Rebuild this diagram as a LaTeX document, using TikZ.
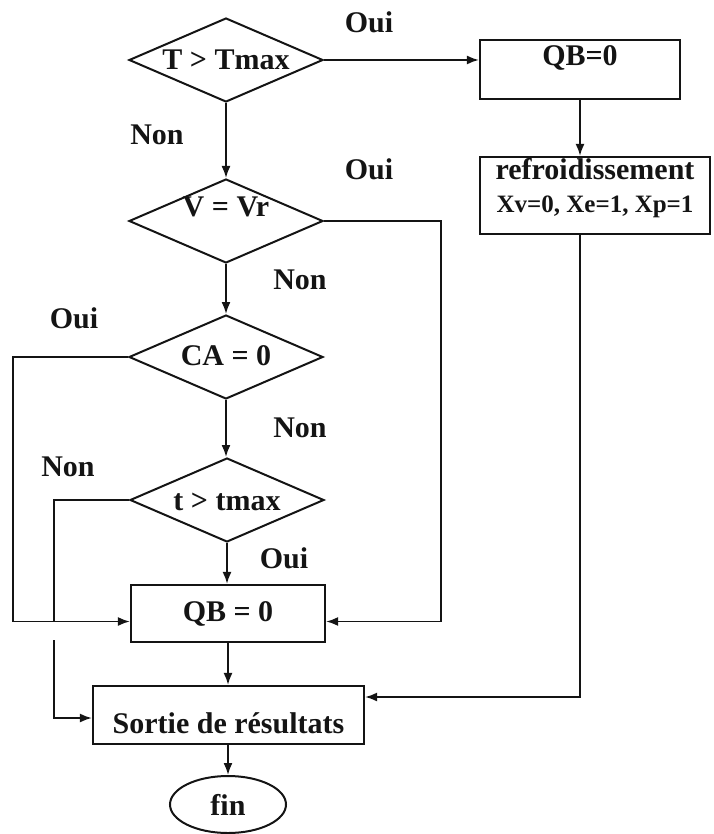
\documentclass[tikz,border=0pt]{standalone}
\usepackage{fontspec}
\setmainfont{Liberation Serif}
\usetikzlibrary{arrows.meta,shapes.geometric}
\definecolor{flowink}{HTML}{141414}

\begin{document}
\begin{tikzpicture}[x=0.5pt, y=-0.5pt,
                    every node/.style={flowink, font=\fontsize{15}{18}\selectfont\bfseries},
                    decision/.style={draw=flowink, shape=diamond, line width=1pt, inner sep=0pt,
                                     minimum width=97pt, minimum height=42pt},
                    block/.style={draw=flowink, rectangle, line width=1.1pt, inner sep=0pt},
                    flow/.style={draw=flowink, line width=0.9pt, -{Latex[length=6pt,width=4.5pt]}},
                    wire/.style={draw=flowink, line width=0.9pt}]

  \useasboundingbox (0,0) rectangle (713,834);

  %% ---- colonne des tests ----
  \node[decision] (tmax) at (226,60) {};
  \node (tmaxtxt) at (226,60) {T > Tmax};

  \node[decision] (vvr) at (226,221) {};
  \node (vvrtxt) at (226,207) {V = Vr};

  \node[decision] (ca) at (226,357) {};
  \node (catxt) at (226,356) {CA = 0};

  \node[decision] (tt) at (227,500) {};
  \node (tttxt) at (227,502) {t > tmax};

  %% ---- blocs ----
  \node[block, minimum width=97pt, minimum height=28.5pt] (qbB) at (228,613.5) {QB = 0};

  \node[block, minimum width=135.5pt, minimum height=29pt] (sortie) at (228.5,715) {};
  \node (sortietxt) at (228.5,723) {Sortie de résultats};

  \node[draw=flowink, shape=ellipse, line width=1pt, inner sep=0pt,
        minimum width=58pt, minimum height=28.5pt] (fin) at (228,804.5) {fin};

  %% ---- branche de droite: refroidissement ----
  \node[block, minimum width=100pt, minimum height=29.5pt] (qbA) at (580,69.5) {};
  \node (qbAtxt) at (580,58) {QB=0};

  \node[block, minimum width=115pt, minimum height=38.5pt] (refr) at (595,195.5) {};
  \node (refrtxt) at (595,169) {refroidissement};
  \node[font=\fontsize{12.5}{15}\selectfont\bfseries] (refrvar) at (595,207) {Xv=0, Xe=1, Xp=1};

  %% ---- étiquettes Oui / Non ----
  \node (ouiA) at (369,22) {Oui};
  \node (nonA) at (157,135) {Non};
  \node (ouiB) at (369,169) {Oui};
  \node (nonB) at (300,280) {Non};
  \node (ouiC) at (74,318) {Oui};
  \node (nonC) at (300,428) {Non};
  \node (nonD) at (68,467) {Non};
  \node (ouiD) at (284,558) {Oui};

  %% ---- points de passage des retours ----
  \coordinate (vrx) at (441,0);
  \coordinate (leftx) at (13,0);
  \coordinate (gapA) at (54,622);
  \coordinate (gapB) at (54,640);

  %% ---- liaisons ----
  \draw[flow] (tmax.east) -- (tmax.east -| qbA.west);
  \draw[flow] (tmax.south) -- (vvr.north);
  \draw[flow] (qbA.south) -- (qbA.south |- refr.north);

  \draw[flow] (vvr.east) -- (vvr.east -| vrx) |- ([yshift=-4pt]qbB.east);
  \draw[flow] (vvr.south) -- (ca.north);

  \draw[flow] (ca.west) -- (ca.west -| leftx) |- ([yshift=-4pt]qbB.west);
  \draw[flow] (ca.south) -- (ca.south |- tt.north);

  %% t > tmax : Non, avec saut au croisement
  \draw[wire] (tt.west) -| (gapA);
  \draw[flow] (gapB) |- ([yshift=-1.5pt]sortie.west);
  \draw[flow] (tt.south) -- (tt.south |- qbB.north);

  \draw[flow] (qbB.south) -- (qbB.south |- sortie.north);
  \draw[flow] (qbA.south |- refr.south) |- ([yshift=9pt]sortie.east);
  \draw[flow] (fin.north |- sortie.south) -- (fin.north);

\end{tikzpicture}
\end{document}
